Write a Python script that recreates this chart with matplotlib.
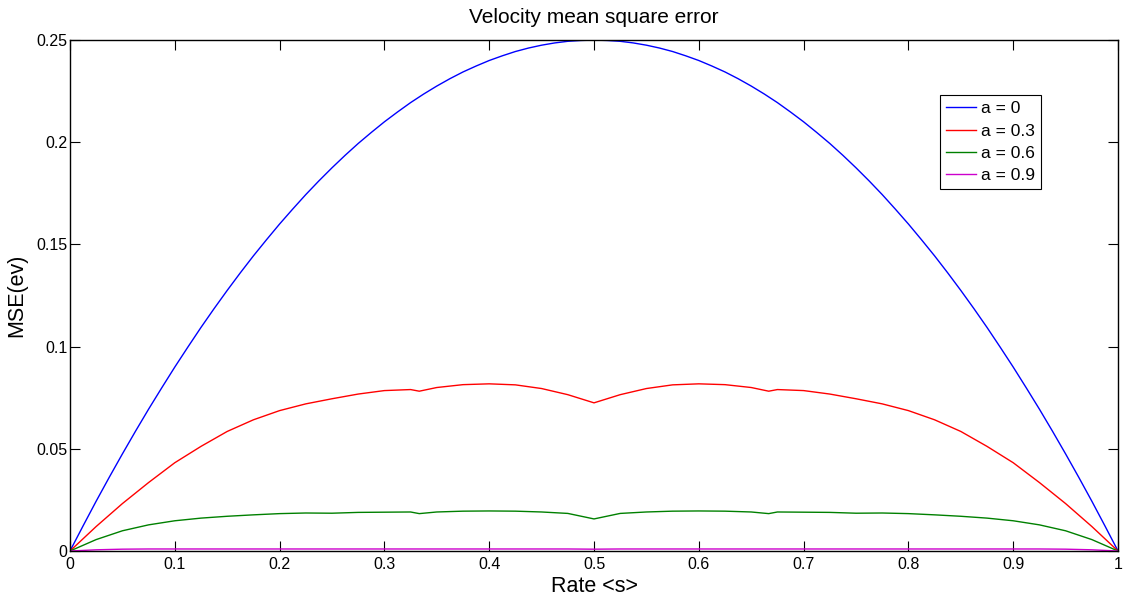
import numpy as np
import matplotlib.pyplot as plt

plt.rcParams['font.family'] = ['Liberation Sans', 'DejaVu Sans']

# rate samples (red / green / magenta curves)
s = [0.0, 0.025, 0.05, 0.075, 0.1, 0.125, 0.15, 0.175, 0.2, 0.225, 0.25, 0.275,
     0.3, 0.325, 0.3333, 0.35, 0.375, 0.4, 0.425, 0.45, 0.475, 0.5,
     0.525, 0.55, 0.575, 0.6, 0.625, 0.65, 0.6667, 0.675, 0.7, 0.725, 0.75,
     0.775, 0.8, 0.825, 0.85, 0.875, 0.9, 0.925, 0.95, 0.975, 1.0]

# finer rate samples for the a = 0 curve
s_fine = [0.0, 0.0125, 0.025, 0.0375, 0.05, 0.0625, 0.075, 0.0875, 0.1, 0.1125,
          0.125, 0.1375, 0.15, 0.1625, 0.175, 0.1875, 0.2, 0.2125, 0.225, 0.2375,
          0.25, 0.2625, 0.275, 0.2875, 0.3, 0.3125, 0.325, 0.3375, 0.35, 0.3625,
          0.375, 0.3875, 0.4, 0.4125, 0.425, 0.4375, 0.45, 0.4625, 0.475, 0.4875,
          0.5, 0.5125, 0.525, 0.5375, 0.55, 0.5625, 0.575, 0.5875, 0.6, 0.6125,
          0.625, 0.6375, 0.65, 0.6625, 0.675, 0.6875, 0.7, 0.7125, 0.725, 0.7375,
          0.75, 0.7625, 0.775, 0.7875, 0.8, 0.8125, 0.825, 0.8375, 0.85, 0.8625,
          0.875, 0.8875, 0.9, 0.9125, 0.925, 0.9375, 0.95, 0.9625, 0.975, 0.9875, 1.0]

mse_a0 = [0.0, 0.0123, 0.0244, 0.0361, 0.0475, 0.0586, 0.0694, 0.0798, 0.09, 0.0998,
          0.1094, 0.1186, 0.1275, 0.1361, 0.1444, 0.1523, 0.16, 0.1673, 0.1744, 0.1811,
          0.1875, 0.1936, 0.1994, 0.2048, 0.21, 0.2148, 0.2194, 0.2236, 0.2275, 0.2311,
          0.2344, 0.2373, 0.24, 0.2423, 0.2444, 0.2461, 0.2475, 0.2486, 0.2494, 0.2498,
          0.25, 0.2498, 0.2494, 0.2486, 0.2475, 0.2461, 0.2444, 0.2423, 0.24, 0.2373,
          0.2344, 0.2311, 0.2275, 0.2236, 0.2194, 0.2148, 0.21, 0.2048, 0.1994, 0.1936,
          0.1875, 0.1811, 0.1744, 0.1673, 0.16, 0.1523, 0.1444, 0.1361, 0.1275, 0.1186,
          0.1094, 0.0998, 0.09, 0.0798, 0.0694, 0.0586, 0.0475, 0.0361, 0.0244, 0.0123, 0.0]

mse_a3 = [0.0, 0.0120, 0.0232, 0.0335, 0.0432, 0.0512, 0.0585, 0.0642, 0.0687, 0.0720, 0.0745, 0.0768,
          0.0785, 0.0790, 0.0782, 0.0800, 0.0814, 0.0818, 0.0813, 0.0795, 0.0765, 0.0725,
          0.0765, 0.0795, 0.0813, 0.0818, 0.0814, 0.0800, 0.0782, 0.0790, 0.0785, 0.0768, 0.0745,
          0.0720, 0.0687, 0.0642, 0.0585, 0.0512, 0.0432, 0.0335, 0.0232, 0.0120, 0.0]

mse_a6 = [0.0, 0.0056, 0.0099, 0.0128, 0.0148, 0.0161, 0.0170, 0.0177, 0.0183, 0.0186, 0.0185, 0.0189,
          0.0190, 0.0191, 0.0183, 0.0191, 0.0195, 0.0196, 0.0195, 0.0191, 0.0184, 0.0157,
          0.0184, 0.0191, 0.0195, 0.0196, 0.0195, 0.0191, 0.0183, 0.0191, 0.0190, 0.0189, 0.0185,
          0.0186, 0.0183, 0.0177, 0.0170, 0.0161, 0.0148, 0.0128, 0.0099, 0.0056, 0.0]

mse_a9 = [0.0, 0.0006, 0.0009, 0.0010, 0.0010, 0.0010, 0.0010, 0.0010, 0.0010, 0.0010, 0.0010, 0.0010,
          0.0010, 0.0010, 0.0010, 0.0010, 0.0010, 0.0010, 0.0010, 0.0010, 0.0010, 0.0009,
          0.0010, 0.0010, 0.0010, 0.0010, 0.0010, 0.0010, 0.0010, 0.0010, 0.0010, 0.0010, 0.0010,
          0.0010, 0.0010, 0.0010, 0.0010, 0.0010, 0.0010, 0.0010, 0.0009, 0.0006, 0.0]

labels = ["a = 0", "a = 0.3", "a = 0.6", "a = 0.9"]
colors = ["#0000ff", "#ff0000", "#008000", "#cc00cc"]

fig = plt.figure(figsize=(11.25, 5.99), dpi=100)
ax = fig.add_axes([0.0622, 0.0801, 0.9316, 0.853])

ax.plot(s_fine, mse_a0, color=colors[0], lw=1.0, label=labels[0])
for y, lab, c in zip([mse_a3, mse_a6, mse_a9], labels[1:], colors[1:]):
    ax.plot(s, y, color=c, lw=1.0, label=lab)

ax.set_xlim(0, 1)
ax.set_ylim(0, 0.25)
ax.set_xticks(np.arange(0, 1.01, 0.1))
ax.set_xticklabels(["0", "0.1", "0.2", "0.3", "0.4", "0.5", "0.6", "0.7", "0.8", "0.9", "1"])
ax.set_yticks([0, 0.05, 0.1, 0.15, 0.2, 0.25])
ax.set_yticklabels(["0", "0.05", "0.1", "0.15", "0.2", "0.25"])
ax.tick_params(direction='in', length=7, width=0.8, top=True, right=True, labelsize=11.5)
ax.tick_params(axis='x', pad=4)
ax.tick_params(axis='y', pad=2)
for sp in ax.spines.values():
    sp.set_linewidth(1.0)

ax.set_title("Velocity mean square error", fontsize=15, pad=12)
ax.set_xlabel("Rate <s>", fontsize=15.5, labelpad=3)
ax.set_ylabel("MSE(ev)", fontsize=15.5, labelpad=6)

leg = ax.legend(loc='upper left', bbox_to_anchor=(0.830, 0.892), fontsize=12.5,
                fancybox=False, edgecolor='black', framealpha=1, borderaxespad=0,
                handlelength=1.75, labelspacing=0.41, borderpad=0.35, handletextpad=0.25)
leg.get_frame().set_linewidth(0.8)

fig.savefig("out.png", dpi=100)
